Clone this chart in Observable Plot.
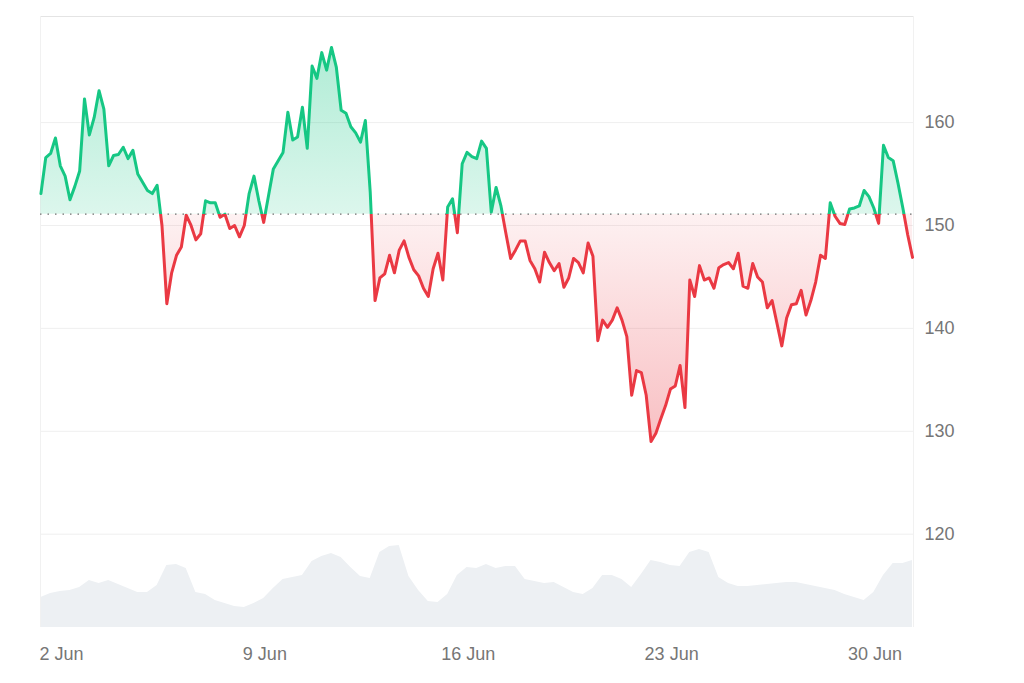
<!DOCTYPE html>
<html>
<head>
<meta charset="utf-8">
<script src="https://cdn.jsdelivr.net/npm/d3@7"></script>
<script src="https://cdn.jsdelivr.net/npm/@observablehq/plot@0.6"></script>
<style>
html, body { margin: 0; padding: 0; background: #ffffff; }
#wrap { position: relative; width: 1024px; height: 683px; overflow: hidden; }
#wrap svg { position: absolute; left: 0; top: 0; }
</style>
</head>
<body>
<div id="wrap"></div>
<script>
// ---- data ----
const priceStart = "2024-06-01T07:00:00Z";
const priceStepHours = 4;
const prices = [
  153.1,156.6,157.0,158.5,155.8,154.8,152.5,153.8,155.3,162.3,
  158.8,160.5,163.1,161.3,155.8,156.8,156.9,157.6,156.5,157.3,
  155.0,154.2,153.4,153.1,153.9,150.0,142.4,145.4,147.1,147.9,
  151.0,150.0,148.6,149.2,152.4,152.2,152.2,150.8,151.1,149.7,
  150.0,148.9,150.0,153.1,154.8,152.4,150.3,152.9,155.5,156.3,
  157.1,161.0,158.3,158.6,161.5,157.5,165.5,164.3,166.8,165.1,
  167.3,165.4,161.2,160.9,159.6,159.0,158.1,160.2,153.3,142.7,
  144.9,145.3,147.1,145.4,147.6,148.5,146.9,145.7,145.1,143.9,
  143.1,145.8,147.3,144.7,151.8,152.6,149.3,156.0,157.1,156.7,
  156.5,158.2,157.5,151.3,153.7,151.9,149.3,146.8,147.6,148.5,
  148.5,146.6,145.8,144.5,147.4,146.4,145.6,146.3,144.0,144.9,
  146.8,146.4,145.4,148.3,147.0,138.8,140.8,140.1,140.8,142.0,
  140.8,139.2,133.5,135.9,135.7,133.5,129.0,129.8,131.2,132.5,
  134.1,134.4,136.4,132.3,144.7,143.1,146.1,144.7,144.9,143.9,
  145.9,146.2,146.4,145.8,147.3,144.1,143.9,146.3,145.0,144.5,
  142.0,142.7,140.5,138.3,141.0,142.3,142.4,143.7,141.3,142.7,
  144.5,147.1,146.8,152.2,150.9,150.2,150.1,151.6,151.7,151.9,
  153.4,152.8,151.7,150.2,157.8,156.6,156.3,154.1,151.7,149.1,146.9
];
const volumeStart = "2024-06-01T07:00:00Z";
const volumeStepHours = 8;
const volumes = [
  30,34,36,37,40,47,44,47,43,39,
  35,35,42,62,63,59,35,33,27,24,
  21,20,24,29,39,48,50,52,66,71,
  74,70,60,51,49,75,81,82,51,37,
  26,25,33,52,60,59,63,59,61,61,
  48,46,44,45,40,35,33,39,52,52,
  48,40,53,67,65,62,61,75,78,75,
  50,44,41,41,42,43,44,45,45,43,
  41,39,37,33,30,27,35,52,64,64,67
];
const baseline = 151.1;
const yTicks = [120, 130, 140, 150, 160];
const xTickDates = ["2024-06-02", "2024-06-09", "2024-06-16", "2024-06-23", "2024-06-30"];
const xDomainDates = ["2024-06-01T06:39:00Z", "2024-07-01T07:48:00Z"];
const yDomain = [110.93, 170.31];
const volumeDomain = [0, 100];

// ---- tables ----
const priceData = prices.map((p, i) => ({t: d3.utcHour.offset(new Date(priceStart), i * priceStepHours), p}));
const volumeData = volumes.map((v, i) => ({t: d3.utcHour.offset(new Date(volumeStart), i * volumeStepHours), v}));
const xTicks = xTickDates.map(s => new Date(s + "T00:00:00Z"));
const xDomain = xDomainDates.map(s => new Date(s));

const GREEN = "#16c784", RED = "#ea3943", TEXT = "#767676";
const FONT = "'Liberation Sans', Arial, Helvetica, sans-serif";
const wrap = document.getElementById("wrap");

// volume layer (own y scale), underneath
const vol = Plot.plot({
  width: 1024, height: 683,
  marginLeft: 40, marginRight: 111, marginTop: 527, marginBottom: 56,
  style: {background: "transparent", fontFamily: FONT},
  x: {type: "utc", domain: xDomain, axis: null},
  y: {domain: volumeDomain, axis: null},
  marks: [
    Plot.areaY(volumeData, {x: "t", y: "v", fill: "#edf0f3"})
  ]
});
wrap.appendChild(vol);

// price layer
const chart = Plot.plot({
  width: 1024, height: 683,
  marginLeft: 40, marginRight: 111, marginTop: 16, marginBottom: 56,
  style: {background: "transparent", fontFamily: FONT, fontSize: "18px", overflow: "visible"},
  x: {type: "utc", domain: xDomain, label: null},
  y: {domain: yDomain, label: null},
  marks: [
    Plot.gridY(yTicks, {stroke: "#efefef", strokeOpacity: 1}),
    Plot.ruleY([yDomain[1]], {stroke: "#e4e4e4", strokeWidth: 1.2}),
    Plot.ruleX([xDomain[0]], {stroke: "#f1f1f1"}),
    Plot.ruleX([xDomain[1]], {stroke: "#f1f1f1"}),
    Plot.areaY(priceData, {x: "t", y1: baseline, y2: "p", fill: "url(#fillGrad)"}),
    Plot.ruleY([baseline], {stroke: "#6f6f6f", strokeDasharray: "1.5,6", strokeWidth: 1.3}),
    Plot.lineY(priceData, {x: "t", y: "p", stroke: "url(#lineGrad)", strokeWidth: 3, strokeLinejoin: "round", strokeLinecap: "round"}),
    Plot.axisY(yTicks, {anchor: "right", tickSize: 0, tickPadding: 11, color: TEXT, fontSize: 18, label: null}),
    Plot.axisX(xTicks, {anchor: "bottom", tickSize: 0, tickPadding: 20, color: TEXT, fontSize: 18, label: null,
                        tickFormat: d3.utcFormat("%-d %b")})
  ]
});

const ys = chart.scale("y");
const yHi = ys.apply(d3.max(prices));
const yLo = ys.apply(d3.min(prices));
const yB = ys.apply(baseline);
const off = (yB - yHi) / (yLo - yHi);
d3.select(chart).insert("defs", ":first-child").html(`
  <linearGradient id="lineGrad" gradientUnits="userSpaceOnUse" x1="0" x2="0" y1="${yHi}" y2="${yLo}">
    <stop offset="0" stop-color="${GREEN}"/>
    <stop offset="${off}" stop-color="${GREEN}"/>
    <stop offset="${off}" stop-color="${RED}"/>
    <stop offset="1" stop-color="${RED}"/>
  </linearGradient>
  <linearGradient id="fillGrad" gradientUnits="userSpaceOnUse" x1="0" x2="0" y1="${yHi}" y2="${yLo}">
    <stop offset="0" stop-color="${GREEN}" stop-opacity="0.34"/>
    <stop offset="${off}" stop-color="${GREEN}" stop-opacity="0.15"/>
    <stop offset="${off}" stop-color="${RED}" stop-opacity="0.07"/>
    <stop offset="1" stop-color="${RED}" stop-opacity="0.32"/>
  </linearGradient>`);
wrap.appendChild(chart);
</script>
</body>
</html>
